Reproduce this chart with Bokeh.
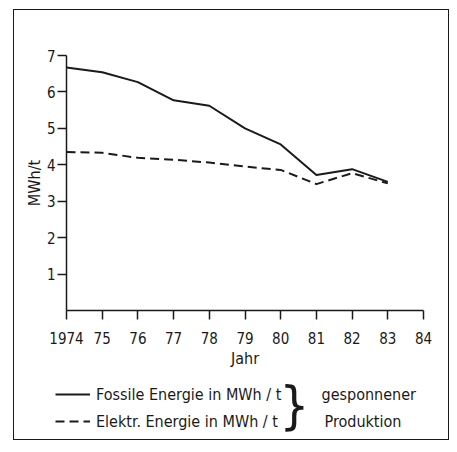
from bokeh.plotting import figure
from bokeh.layouts import column
from bokeh.models import FixedTicker, Label, Legend, LegendItem
from bokeh.embed import file_html
from bokeh.resources import INLINE

years = [1974, 1975, 1976, 1977, 1978, 1979, 1980, 1981, 1982, 1983]
fossile = [6.67, 6.54, 6.27, 5.77, 5.62, 5.00, 4.56, 3.72, 3.88, 3.53]
elektr = [4.35, 4.33, 4.19, 4.14, 4.06, 3.95, 3.86, 3.47, 3.77, 3.49]
x_ticks = [1974, 1975, 1976, 1977, 1978, 1979, 1980, 1981, 1982, 1983, 1984]
x_tick_labels = ["1974", "75", "76", "77", "78", "79", "80", "81", "82", "83", "84"]
y_ticks = [1, 2, 3, 4, 5, 6, 7]
legend_labels = ["Fossile Energie in MWh / t", "Elektr. Energie in MWh / t"]
note_labels = ["gesponnener", "Produktion"]

FONT = "DejaVu Sans Condensed"
INK = "#1a1a1a"
DASH = "9 5"

# ---- main chart ----
p = figure(width=434, height=362, x_range=(x_ticks[0], x_ticks[-1]), y_range=(0, y_ticks[-1]),
           output_backend="svg", toolbar_location=None,
           min_border_left=52, min_border_right=25, min_border_top=45, min_border_bottom=62)
p.grid.visible = False
p.outline_line_color = None
p.background_fill_color = "white"
p.border_fill_color = "white"

for ax in (p.xaxis[0], p.yaxis[0]):
    ax.axis_line_color = INK
    ax.axis_line_width = 1.5
    ax.major_tick_line_color = INK
    ax.major_tick_line_width = 1.5
    ax.major_tick_in = 0
    ax.major_tick_out = 9
    ax.minor_tick_line_color = None
    ax.major_label_text_font = FONT
    ax.major_label_text_font_size = "15px"
    ax.major_label_text_color = INK
    ax.axis_label_text_font = FONT
    ax.axis_label_text_font_size = "16px"
    ax.axis_label_text_font_style = "normal"
    ax.axis_label_text_color = INK

p.xaxis.ticker = FixedTicker(ticks=x_ticks)
p.xaxis.major_label_overrides = {t: l for t, l in zip(x_ticks, x_tick_labels)}
p.xaxis.axis_label = "Jahr"
p.xaxis.major_label_standoff = 12
p.xaxis.axis_label_standoff = 2
p.yaxis.ticker = FixedTicker(ticks=y_ticks)
p.yaxis.axis_label = "MWh/t"
p.yaxis.major_label_standoff = 2
p.yaxis.axis_label_standoff = 0

p.line(years, fossile, line_color=INK, line_width=2)
p.line(years, elektr, line_color=INK, line_width=2, line_dash=DASH)

# ---- legend strip ----
q = figure(width=434, height=67, x_range=(0, 1), y_range=(0, 1),
           output_backend="svg", toolbar_location=None,
           x_axis_location=None, y_axis_location=None,
           min_border_left=0, min_border_right=0, min_border_top=0, min_border_bottom=0)
q.grid.visible = False
q.outline_line_color = None
q.background_fill_color = "white"
q.border_fill_color = "white"

# do not align the strip's frame with the chart's frame
for fig in (p, q):
    if "frame_align" in fig.properties():
        fig.frame_align = False

# proxies for the legend samples (same series, outside this strip's view)
g1 = q.line(years, fossile, line_color=INK, line_width=2)
g2 = q.line(years, elektr, line_color=INK, line_width=2, line_dash=DASH)

legend = Legend(items=[LegendItem(label=legend_labels[0], renderers=[g1]),
                       LegendItem(label=legend_labels[1], renderers=[g2])],
                location=(41, 8), orientation="vertical",
                label_text_font=FONT, label_text_font_size="16px", label_text_color=INK,
                glyph_width=35, glyph_height=20, spacing=7, padding=0, margin=0,
                label_standoff=6, border_line_color=None, background_fill_alpha=0)
q.add_layout(legend, "center")

q.add_layout(Label(x=280, y=35, x_units="screen", y_units="screen", text="}",
                   text_font=FONT, text_font_size="52px", text_color=INK,
                   text_baseline="middle", text_align="center"))
q.add_layout(Label(x=307, y=45, x_units="screen", y_units="screen", text=note_labels[0],
                   text_font=FONT, text_font_size="16px", text_color=INK, text_baseline="middle"))
q.add_layout(Label(x=310, y=18, x_units="screen", y_units="screen", text=note_labels[1],
                   text_font=FONT, text_font_size="16px", text_color=INK, text_baseline="middle"))

layout = column(p, q, spacing=0, margin=(9, 0, 0, 13),
                styles={"border": "1.5px solid #1a1a1a", "background-color": "white"})

open("out.html", "w").write(file_html(layout, INLINE))
